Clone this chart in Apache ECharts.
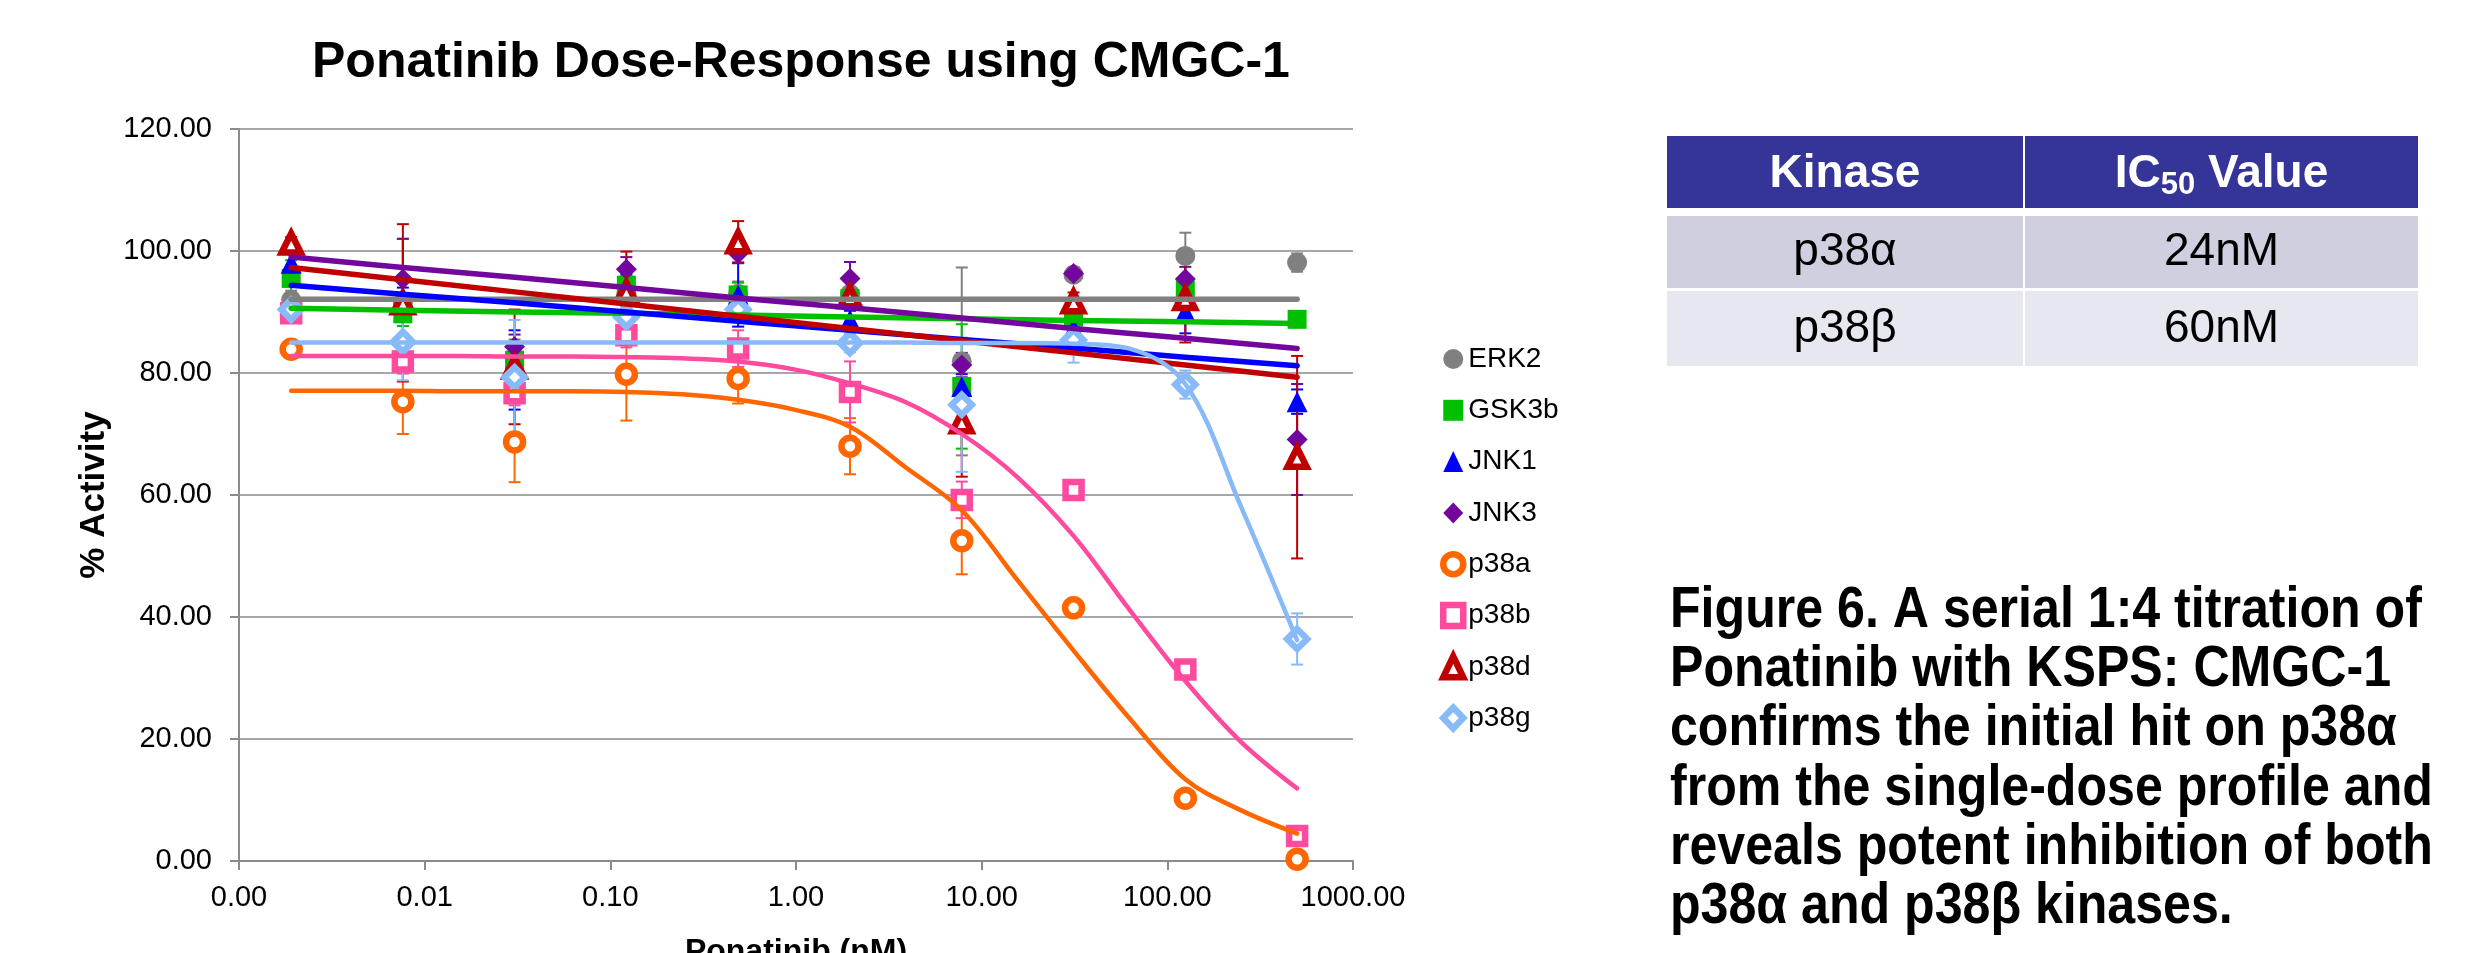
<!DOCTYPE html>
<html><head><meta charset="utf-8">
<script src="https://cdn.jsdelivr.net/npm/echarts@6/dist/echarts.min.js"></script>
<style>html,body{margin:0;padding:0;background:#fff;}#c{width:2485px;height:953px;}</style>
</head><body><div id="c"></div>
<script>
// Concentrations (nM), serial 1:4 dilution
const conc = [0.00191, 0.00763, 0.0305, 0.122, 0.488, 1.953, 7.8125, 31.25, 125, 500];
const fitConc = [0.00191, 0.00382, 0.00763, 0.0153, 0.0305, 0.061, 0.122, 0.244, 0.488, 0.977, 1.953, 3.906, 7.8125, 15.625, 31.25, 62.5, 125, 250, 500];
const xTicks = [0.001, 0.01, 0.1, 1, 10, 100, 1000];
const yTicks = [0, 20, 40, 60, 80, 100, 120];
const kinases = ['ERK2', 'GSK3b', 'JNK1', 'JNK3', 'p38a', 'p38b', 'p38d', 'p38g'];

// % Activity values
const erk2  = [92.0, 91.5, 82.5, 93.0, 93.0, 93.0, 81.9, 96.1, 99.2, 98.1];
const gsk3b = [95.5, 89.7, 82.1, 94.4, 92.8, 92.2, 77.8, 89.2, 93.6, 88.8];
const jnk1  = [98.0, 92.0, 80.5, 94.1, 92.8, 88.7, 77.8, 87.3, 90.0, 75.3];
const jnk3  = [100.5, 95.4, 84.3, 97.0, 99.6, 95.5, 81.3, 96.3, 95.4, 69.1];
const p38a  = [83.9, 75.3, 68.7, 79.8, 79.1, 68.0, 52.5, 41.5, 10.3, 0.3];
const p38b  = [89.8, 81.9, 76.7, 86.2, 84.0, 76.9, 59.2, 60.8, 31.4, 4.1];
const p38d  = [101.3, 91.5, 81.0, 93.3, 101.5, 92.5, 72.0, 91.7, 92.2, 66.2];
const p38g  = [90.4, 85.1, 79.3, 89.2, 90.4, 84.9, 74.8, 85.4, 78.1, 36.4];

// Error bar half-widths
const erk2Err  = [1.5, 10.5, 3, 2, 2, 2, 15.4, 1, 3.8, 1.5];
const gsk3bErr = [3, 2, 2, 2, 2, 1.5, 10.2, 1.5, 2, 1];
const jnk1Err  = [1.5, 2, 6.5, 2, 5.2, 1.5, 2, 1.5, 3.5, 2];
const jnk3Err  = [1, 6.6, 2, 2, 1.5, 2.7, 2, 1, 2, 9.1];
const p38aErr  = [1, 5.3, 6.6, 7.6, 4.1, 4.6, 5.5, 1, 1, 0.5];
const p38bErr  = [1, 2, 2, 2, 3, 5, 3, 1, 1, 0.5];
const p38dErr  = [1, 12.9, 9.4, 6.6, 3.4, 1.5, 9, 1.5, 7.2, 16.6];
const p38gErr  = [1.5, 6.3, 9.4, 1.5, 1.5, 1.5, 11, 3.7, 2.3, 4.2];

// Fitted curves
const erk2Fit  = [92.1, 92.1, 92.1, 92.1, 92.1, 92.1, 92.1, 92.1, 92.1, 92.1];
const gsk3bFit = [90.6, 90.3, 90.0, 89.8, 89.5, 89.2, 88.9, 88.6, 88.4, 88.1];
const jnk1Fit  = [94.4, 92.9, 91.5, 90.0, 88.5, 87.0, 85.5, 84.1, 82.6, 81.2];
const jnk3Fit  = [99.0, 97.3, 95.7, 94.0, 92.3, 90.7, 89.0, 87.3, 85.7, 84.0];
const p38dFit  = [97.3, 95.3, 93.3, 91.3, 89.3, 87.3, 85.3, 83.3, 81.3, 79.3];
const p38aFit  = [77.1, 77.1, 77.1, 77.0, 77.0, 77.0, 76.9, 76.5, 75.6, 74.0, 71.2, 64.5, 57.5, 46.0, 34.5, 23.4, 13.4, 8.3, 4.5];
const p38bFit  = [82.8, 82.8, 82.8, 82.8, 82.7, 82.7, 82.6, 82.4, 81.9, 80.6, 78.3, 75.2, 70.0, 62.9, 53.3, 41.2, 29.5, 19.5, 11.9];
const p38gFit  = [85.0, 85.0, 85.0, 85.0, 85.0, 85.0, 85.0, 85.0, 85.0, 85.0, 85.0, 85.0, 84.9, 84.9, 84.8, 84.0, 78.2, 58.0, 36.2];

// Table / caption text
const tableHead = ['Kinase', 'IC50 Value'];
const tableKinase = ['p38α', 'p38β'];
const tableIC50 = ['24nM', '60nM'];
const captionLines = [
  'Figure 6. A serial 1:4 titration of',
  'Ponatinib with KSPS: CMGC-1',
  'confirms the initial hit on p38α',
  'from the single-dose profile and',
  'reveals potent inhibition of both',
  'p38α and p38β kinases.'
];

const FONT = '"Liberation Sans", Arial, sans-serif';
const GRIDC = '#8a8a8a';

const cfg = [
  {name:'ERK2',  vals:erk2,  err:erk2Err,  fitX:conc,    fit:erk2Fit,  color:'#808080', symbol:'circle',   size:20, hollow:false, curve:false},
  {name:'GSK3b', vals:gsk3b, err:gsk3bErr, fitX:conc,    fit:gsk3bFit, color:'#00C000', symbol:'rect',     size:19, hollow:false, curve:false},
  {name:'JNK1',  vals:jnk1,  err:jnk1Err,  fitX:conc,    fit:jnk1Fit,  color:'#0000FF', symbol:'triangle', size:21, hollow:false, curve:false},
  {name:'JNK3',  vals:jnk3,  err:jnk3Err,  fitX:conc,    fit:jnk3Fit,  color:'#73069C', symbol:'diamond',  size:21, hollow:false, curve:false},
  {name:'p38a',  vals:p38a,  err:p38aErr,  fitX:fitConc, fit:p38aFit,  color:'#FF6600', symbol:'circle',   size:17, hollow:true,  curve:true},
  {name:'p38b',  vals:p38b,  err:p38bErr,  fitX:fitConc, fit:p38bFit,  color:'#FF4A9E', symbol:'rect',     size:16, hollow:true,  curve:true},
  {name:'p38d',  vals:p38d,  err:p38dErr,  fitX:conc,    fit:p38dFit,  color:'#C00000', symbol:'triangle', size:19, hollow:true,  curve:false},
  {name:'p38g',  vals:p38g,  err:p38gErr,  fitX:fitConc, fit:p38gFit,  color:'#88B9F8', symbol:'diamond',  size:20, hollow:true,  curve:true}
];

function errRender(color) {
  return function (params, api) {
    const x = api.value(0), y = api.value(1), e = api.value(2);
    const t = api.coord([x, y + e]);
    const b = api.coord([x, Math.max(0, y - e)]);
    const hw = 6;
    const st = {stroke: color, lineWidth: 2, fill: null};
    return {type: 'group', children: [
      {type: 'line', shape: {x1: t[0], y1: t[1], x2: b[0], y2: b[1]}, style: st},
      {type: 'line', shape: {x1: t[0] - hw, y1: t[1], x2: t[0] + hw, y2: t[1]}, style: st},
      {type: 'line', shape: {x1: b[0] - hw, y1: b[1], x2: b[0] + hw, y2: b[1]}, style: st}
    ]};
  };
}

const series = [];
cfg.forEach(function (c) {
  series.push({
    name: c.name + ' error', type: 'custom', z: 2, silent: true,
    renderItem: errRender(c.color),
    encode: {x: 0, y: 1},
    data: conc.map(function (x, i) { return [x, c.vals[i], c.err[i]]; })
  });
});
cfg.forEach(function (c) {
  series.push({
    name: c.name, type: 'scatter', z: 3,
    symbol: c.symbol, symbolSize: c.size,
    itemStyle: c.hollow ? {color: '#ffffff', borderColor: c.color, borderWidth: 6.5, opacity: 1}
                        : {color: c.color, opacity: 1},
    data: conc.map(function (x, i) { return [x, c.vals[i]]; })
  });
});
cfg.forEach(function (c) {
  series.push({
    name: c.name + ' fit', type: 'line', z: 4, silent: true,
    showSymbol: false, symbol: 'none',
    smooth: c.curve ? 0.35 : false,
    lineStyle: {color: c.color, width: c.curve ? 4.5 : 5.5, cap: 'round', join: 'round'},
    data: c.fitX.map(function (x, i) { return [x, c.fit[i]]; })
  });
});

// Table graphics
const colX = [1667, 2025], colW = [356, 393];
const rowY = [136, 216, 291], rowH = [72, 72, 75];
const rowFill = ['#353599', '#CFCFE0', '#E7E7EF'];
const graphics = [];
for (let r = 0; r < 3; r++) {
  for (let c = 0; c < 2; c++) {
    graphics.push({type: 'rect', shape: {x: colX[c], y: rowY[r], width: colW[c], height: rowH[r]},
                   style: {fill: rowFill[r]}, silent: true});
  }
}
graphics.push({type: 'text', x: colX[0] + colW[0] / 2, y: 174,
  style: {text: tableHead[0], fontFamily: FONT, fontSize: 46, fontWeight: 'bold', fill: '#fff', align: 'center', verticalAlign: 'middle'}});
graphics.push({type: 'text', x: colX[1] + colW[1] / 2, y: 174,
  style: {text: '{b|IC}{s|50}{b| Value}', align: 'center', verticalAlign: 'middle',
    rich: {
      b: {fontFamily: FONT, fontSize: 46, fontWeight: 'bold', fill: '#fff', color: '#fff', lineHeight: 54},
      s: {fontFamily: FONT, fontSize: 31, fontWeight: 'bold', fill: '#fff', color: '#fff', lineHeight: 20, verticalAlign: 'bottom'}
    }}});
const rowCenters = [252.7, 329];
for (let r = 0; r < 2; r++) {
  graphics.push({type: 'text', x: colX[0] + colW[0] / 2, y: rowCenters[r],
    style: {text: tableKinase[r], fontFamily: FONT, fontSize: 46, fill: '#000', align: 'center', verticalAlign: 'middle'}});
  graphics.push({type: 'text', x: colX[1] + colW[1] / 2, y: rowCenters[r],
    style: {text: tableIC50[r], fontFamily: FONT, fontSize: 46, fill: '#000', align: 'center', verticalAlign: 'middle'}});
}
graphics.push({type: 'text', x: 1670, y: 581.3, scaleX: 0.864,
  style: {text: captionLines.join('\n'), fontFamily: FONT, fontSize: 58, fontWeight: 'bold',
          lineHeight: 59.2, fill: '#000', align: 'left', verticalAlign: 'top'}});

const chart = echarts.init(document.getElementById('c'), null, {renderer: 'canvas'});
chart.setOption({
  animation: false,
  backgroundColor: '#ffffff',
  title: {
    text: 'Ponatinib Dose-Response using CMGC-1',
    left: 307, top: 33,
    textStyle: {fontFamily: FONT, fontSize: 50, fontWeight: 'bold', color: '#000'}
  },
  legend: {
    data: kinases, orient: 'vertical', left: 1440, top: 345, padding: 0,
    itemWidth: 20, itemHeight: 21, itemGap: 23.3,
    itemStyle: {borderWidth: 'inherit'},
    textStyle: {fontFamily: FONT, fontSize: 28, color: '#000'}
  },
  grid: {left: 239, right: 1132, top: 129, bottom: 92, containLabel: false, outerBoundsMode: 'none'},
  xAxis: {
    type: 'log', logBase: 10, min: xTicks[0], max: xTicks[xTicks.length - 1],
    name: 'Ponatinib (nM)', nameLocation: 'middle', nameGap: 75,
    nameTextStyle: {fontFamily: FONT, fontSize: 32, fontWeight: 'bold', color: '#000'},
    axisLine: {show: true, onZero: false, lineStyle: {color: GRIDC, width: 2}},
    axisTick: {show: true, length: 9, lineStyle: {color: GRIDC, width: 2}},
    axisLabel: {margin: 22, fontFamily: FONT, fontSize: 29, color: '#000',
      formatter: function (v) { return Number(v).toFixed(2); }},
    splitLine: {show: false}, minorTick: {show: false}
  },
  yAxis: {
    type: 'value', min: yTicks[0], max: yTicks[yTicks.length - 1], interval: 20,
    name: '% Activity', nameLocation: 'middle', nameGap: 127,
    nameTextStyle: {fontFamily: FONT, fontSize: 35, fontWeight: 'bold', color: '#000'},
    axisLine: {show: true, lineStyle: {color: GRIDC, width: 2}},
    axisTick: {show: true, length: 9, lineStyle: {color: GRIDC, width: 2}},
    axisLabel: {margin: 27, fontFamily: FONT, fontSize: 29, color: '#000',
      formatter: function (v) { return Number(v).toFixed(2); }},
    splitLine: {show: true, lineStyle: {color: GRIDC, width: 1.5}}
  },
  graphic: graphics,
  series: series
});
</script></body></html>
